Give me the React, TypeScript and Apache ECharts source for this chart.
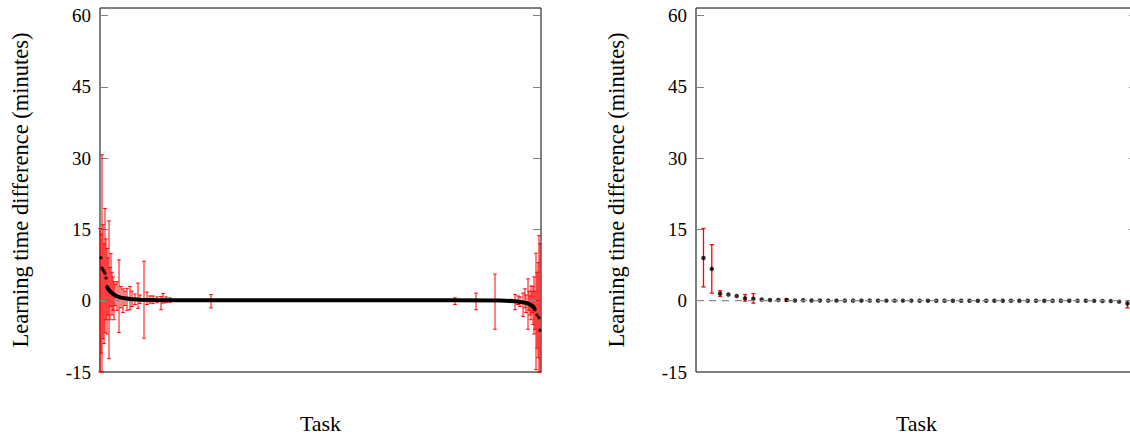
import React, { useEffect, useRef } from 'react';
import * as echarts from 'echarts';

// ---------- shared axis data ----------
const yTicks = [-15, 0, 15, 30, 45, 60];
const yMin = -15;
const yMax = 61.6;
const yTitle = 'Learning time difference (minutes)';
const xTitle = 'Task';

// ---------- left panel (all tasks, sorted by mean difference) ----------
const leftTaskMin = 0;
const leftTaskMax = 441;

// continuous part of the sorted means [task, mean]
const leftCurve: [number, number][] = [
  [7, 3.0], [8, 2.5], [10, 2.0], [12, 1.6], [14, 1.3], [17, 0.9], [20, 0.7],
  [25, 0.5], [30, 0.35], [40, 0.22], [55, 0.15], [80, 0.12], [150, 0.1],
  [250, 0.1], [350, 0.08], [400, 0.05], [415, -0.1], [422, -0.3], [427, -0.5],
  [430, -0.8], [433, -1.2], [435, -1.9],
];

// isolated means at both ends [task, mean]
const leftDots: [number, number][] = [
  [1, 9.05], [2, 6.9], [3, 6.5], [4, 6.2], [5, 5.8], [6, 4.8], [7, 3.0],
  [434, -1.5], [435, -1.9], [437, -3.0], [439, -3.6], [440, -6.2],
];

// error bars [task, low, high]
const leftErrors: [number, number, number][] = [
  [0, -15, 15.2], [1, -11, 14], [2, -15, 30.7], [3, -8, 16], [4, -9, 12],
  [5, -6.7, 19.4], [6, -4, 13], [7, -7, 11], [8, -3, 9], [9, -12.2, 16.8],
  [10, -4, 7], [11, -1.2, 9.9], [12, -3, 6], [13, -2, 5], [14, -4, 4],
  [15, -1, 3.5], [17, -2, 4], [19, -6.7, 8.6], [21, -1.5, 3], [23, -2.5, 2.5],
  [25, -1, 2], [27, -2, 2.6], [30, -1.9, 3.0], [32, -1.2, 2], [35, -0.8, 1.4],
  [38, -1.6, 3.7], [40, -0.6, 1.2], [44, -7.9, 8.3], [47, -0.8, 1.8],
  [50, -0.5, 1.0], [53, -0.6, 1.0], [57, -0.4, 0.8], [61, -1.9, 0.9],
  [63, -0.5, 1.5], [66, -0.4, 0.8], [70, -0.3, 0.6], [111, -1.5, 1.3],
  [355, -0.8, 0.6], [376, -1.9, 1.6], [395, -6.0, 5.6], [411, -0.4, 0.3],
  [415, -1.9, 1.3], [418, -0.8, 1.0], [420, -1.2, 0.8], [423, -3.3, 1.6],
  [425, -1.5, 2.5], [426, -2.5, 1.2], [428, -6.0, 4.6], [429, -2, 2],
  [430, -3, 1], [431, -4.0, 3.1], [432, -2.5, 2.0], [433, -5, 3],
  [434, -7, 5], [435, -6, 2], [436, -14.5, 10.0], [437, -10, 6],
  [438, -12, 8], [439, -15, 13.7], [440, -15, 12],
];

// ---------- right panel (selected tasks) ----------
const rightTaskMin = 0.1;
const rightTaskMax = 53.15;
const rightMeans = [
  9.0, 6.7, 1.5, 1.3, 1.0, 0.5, 0.4, 0.25, 0.15, 0.15, 0.15, 0.05, 0.1, 0.05,
  0.04, 0.03, 0.03, 0.02, 0.02, 0.02, 0.02, 0.01, 0.01, 0.01, 0.01, 0.01,
  0.0, 0.0, 0.0, 0.0, 0.0, 0.0, 0.0, 0.0, 0.0, 0.0, 0.0, 0.0, 0.0, 0.0, 0.0, 0.0,
  -0.01, -0.01, -0.01, -0.02, -0.02, -0.03, -0.05, -0.08, -0.2, -0.6,
];
// [task, low, high]
const rightErrors: [number, number, number][] = [
  [1, 2.9, 15.2], [2, 1.6, 11.8], [3, 0.9, 2.1], [6, -0.1, 1.3],
  [7, -0.5, 1.5], [11, -0.1, 0.4], [52, -1.5, 0.0],
];

const FONT = '"Liberation Serif", "Times New Roman", serif';

function errorBarItem(capHalf: number, width: number) {
  return (params: any, api: any) => {
    const x = api.value(0);
    const lo = api.value(1);
    const hi = api.value(2);
    const top = api.coord([x, hi]);
    const bot = api.coord([x, lo]);
    const style = { stroke: '#ff0000', lineWidth: width, fill: null };
    return {
      type: 'group',
      children: [
        { type: 'line', shape: { x1: top[0], y1: top[1], x2: bot[0], y2: bot[1] }, style },
        { type: 'line', shape: { x1: top[0] - capHalf, y1: top[1], x2: top[0] + capHalf, y2: top[1] }, style },
        { type: 'line', shape: { x1: bot[0] - capHalf, y1: bot[1], x2: bot[0] + capHalf, y2: bot[1] }, style },
      ],
    };
  };
}

function yAxisPair(gridIndex: number) {
  const common = {
    type: 'value',
    gridIndex,
    min: yMin,
    max: yMax,
    interval: 15,
    axisLine: { show: false },
    splitLine: { show: false },
    axisTick: {
      show: true,
      inside: true,
      length: 8,
      customValues: yTicks,
      lineStyle: { color: '#808080', width: 1 },
    },
  };
  return [
    {
      ...common,
      position: 'left',
      name: yTitle,
      nameLocation: 'middle',
      nameGap: 68,
      nameRotate: 90,
      nameTextStyle: { fontFamily: FONT, fontSize: 22.5, color: '#000' },
      axisLabel: {
        show: true,
        customValues: yTicks,
        fontFamily: FONT,
        fontSize: 19,
        color: '#000',
        margin: 9,
      },
    },
    {
      ...common,
      position: 'right',
      axisLabel: { show: false },
    },
  ];
}

function xAxis(gridIndex: number, min: number, max: number) {
  return {
    type: 'value',
    gridIndex,
    min,
    max,
    name: xTitle,
    nameLocation: 'middle',
    nameGap: 40,
    nameTextStyle: { fontFamily: FONT, fontSize: 22, color: '#000' },
    axisLine: { show: false },
    axisTick: { show: false },
    axisLabel: { show: false },
    splitLine: { show: false },
  };
}

const zeroLineStyle = { color: '#8c8c8c', width: 1.3, type: [7, 6] as any };

export default function App() {
  const ref = useRef<HTMLDivElement>(null);

  useEffect(() => {
    if (!ref.current) return;
    const chart = echarts.init(ref.current, null, { renderer: 'svg' });
    const gridBase = {
      top: 8,
      width: 441,
      height: 364,
      show: true,
      borderColor: '#000',
      borderWidth: 1,
      backgroundColor: 'transparent',
      containLabel: false,
      outerBoundsMode: 'none',
    };
    const option: any = {
      animation: false,
      grid: [
        { ...gridBase, left: 100 },
        { ...gridBase, left: 696 },
      ],
      xAxis: [
        xAxis(0, leftTaskMin, leftTaskMax),
        xAxis(1, rightTaskMin, rightTaskMax),
      ],
      yAxis: [...yAxisPair(0), ...yAxisPair(1)],
      series: [
        // left panel
        {
          type: 'line',
          xAxisIndex: 0,
          yAxisIndex: 0,
          data: [[leftTaskMin, 0], [leftTaskMax, 0]],
          showSymbol: false,
          silent: true,
          lineStyle: zeroLineStyle,
        },
        {
          type: 'custom',
          xAxisIndex: 0,
          yAxisIndex: 0,
          data: leftErrors,
          encode: { x: 0, y: [1, 2] },
          renderItem: errorBarItem(1.8, 1),
          silent: true,
        },
        {
          type: 'line',
          xAxisIndex: 0,
          yAxisIndex: 0,
          data: leftCurve,
          showSymbol: false,
          lineStyle: { color: '#000', width: 4 },
          silent: true,
        },
        {
          type: 'scatter',
          xAxisIndex: 0,
          yAxisIndex: 0,
          data: leftDots,
          symbol: 'circle',
          symbolSize: 3.5,
          itemStyle: { color: '#000' },
          silent: true,
        },
        // right panel
        {
          type: 'line',
          xAxisIndex: 1,
          yAxisIndex: 2,
          data: [[rightTaskMin, 0], [rightTaskMax, 0]],
          showSymbol: false,
          silent: true,
          lineStyle: zeroLineStyle,
        },
        {
          type: 'custom',
          xAxisIndex: 1,
          yAxisIndex: 2,
          data: rightErrors,
          encode: { x: 0, y: [1, 2] },
          renderItem: errorBarItem(2, 1.3),
          silent: true,
        },
        {
          type: 'scatter',
          xAxisIndex: 1,
          yAxisIndex: 2,
          data: rightMeans.map((v, i) => [i + 1, v]),
          symbol: 'circle',
          symbolSize: 4.5,
          itemStyle: { color: '#000' },
          silent: true,
        },
      ],
    };
    chart.setOption(option);
    return () => chart.dispose();
  }, []);

  return (
    <div
      ref={ref}
      style={{ position: 'absolute', left: 0, top: 0, width: 1130, height: 436 }}
    />
  );
}
